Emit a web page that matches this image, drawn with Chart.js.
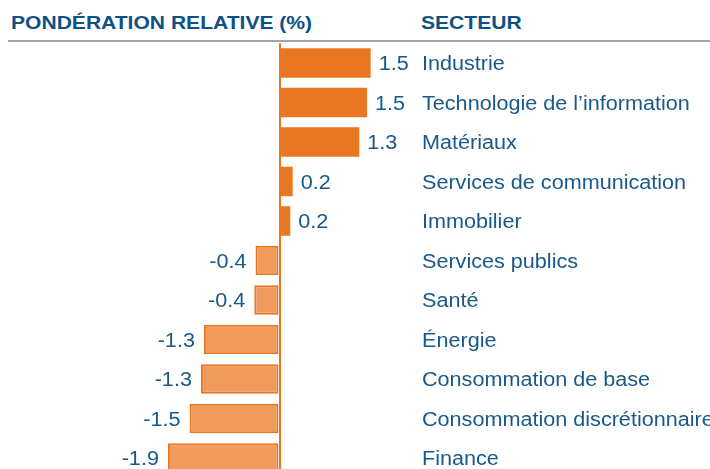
<!DOCTYPE html>
<html lang="fr">
<head>
<meta charset="utf-8">
<script src="https://cdn.jsdelivr.net/npm/chart.js@4"></script>
<style>
    body { margin: 0; width: 710px; height: 469px; overflow: hidden; background: #fff; font-family: "Liberation Sans", Arial, sans-serif; }
    .head { position: absolute; top: 14px; font-weight: bold; font-size: 18px; line-height: 18px; color: #0e5185; transform: scaleX(1.17); transform-origin: 0 0; white-space: nowrap; }
    #rule { position: absolute; left: 8px; right: 0; top: 40px; height: 1.5px; background: #a6a6a6; }
    #box { position: absolute; left: 0; top: 0; width: 710px; height: 490px; }
</style>
</head>
<body>
<div class="head" style="left:11px">PONDÉRATION RELATIVE (%)</div>
<div class="head" style="left:421px">SECTEUR</div>
<div id="rule"></div>
<div id="box"><canvas id="weights"></canvas></div>
<script>
const sectors = [
    'Industrie',
    'Technologie de l’information',
    'Matériaux',
    'Services de communication',
    'Immobilier',
    'Services publics',
    'Santé',
    'Énergie',
    'Consommation de base',
    'Consommation discrétionnaire',
    'Finance'
];
const weights = [1.52, 1.46, 1.33, 0.22, 0.18, -0.40, -0.42, -1.26, -1.31, -1.50, -1.86];

const orange = '#e87722';
const lightOrange = '#f09b5e';
const textBlue = '#19598a';

// zero sits at x=279.5, about 60px per 1%
const zeroX = 279.5;
const pxPerUnit = 60;
const stretch = 1.08;

const labelsPlugin = {
    id: 'labels',
    afterDatasetsDraw(chart) {
        const ctx = chart.ctx;
        const meta = chart.getDatasetMeta(0);
        const put = (txt, x, y, align) => {
            ctx.save();
            ctx.translate(x, y);
            ctx.scale(stretch, 1);
            ctx.textAlign = align;
            ctx.fillText(txt, 0, 0);
            ctx.restore();
        };
        ctx.save();
        ctx.font = '20px "Liberation Sans", Arial, sans-serif';
        ctx.fillStyle = textBlue;
        ctx.textBaseline = 'alphabetic';
        meta.data.forEach((bar, i) => {
            const v = weights[i];
            const txt = v.toFixed(1);
            if (v >= 0) {
                put(txt, bar.x + 8, bar.y + 7, 'left');
            } else {
                put(txt, bar.x - 9, bar.y + 7, 'right');
            }
            put(sectors[i], 422, bar.y + 7, 'left');
        });
        ctx.restore();
    }
};

new Chart(document.getElementById('weights'), {
    type: 'bar',
    data: {
        labels: sectors,
        datasets: [{
            data: weights,
            backgroundColor: weights.map(v => v >= 0 ? orange : lightOrange),
            borderColor: orange,
            borderWidth: weights.map(v => v >= 0 ? 0 : 2),
            borderSkipped: false,
            barPercentage: 0.75,
            categoryPercentage: 1
        }]
    },
    options: {
        indexAxis: 'y',
        responsive: true,
        maintainAspectRatio: false,
        animation: false,
        layout: { padding: { left: 0, right: 0, top: 43.25, bottom: 12.25 } },
        plugins: { legend: { display: false }, tooltip: { enabled: false } },
        scales: {
            x: {
                min: -zeroX / pxPerUnit,
                max: (710 - zeroX) / pxPerUnit,
                display: true,
                border: { display: false },
                ticks: { display: false },
                grid: {
                    drawTicks: false,
                    lineWidth: 2,
                    color: c => (c.tick && c.tick.value === 0) ? orange : 'rgba(0,0,0,0)'
                },
                afterBuildTicks: axis => { axis.ticks = [{ value: 0 }]; }
            },
            y: {
                display: false
            }
        }
    },
    plugins: [labelsPlugin]
});
</script>
</body>
</html>
